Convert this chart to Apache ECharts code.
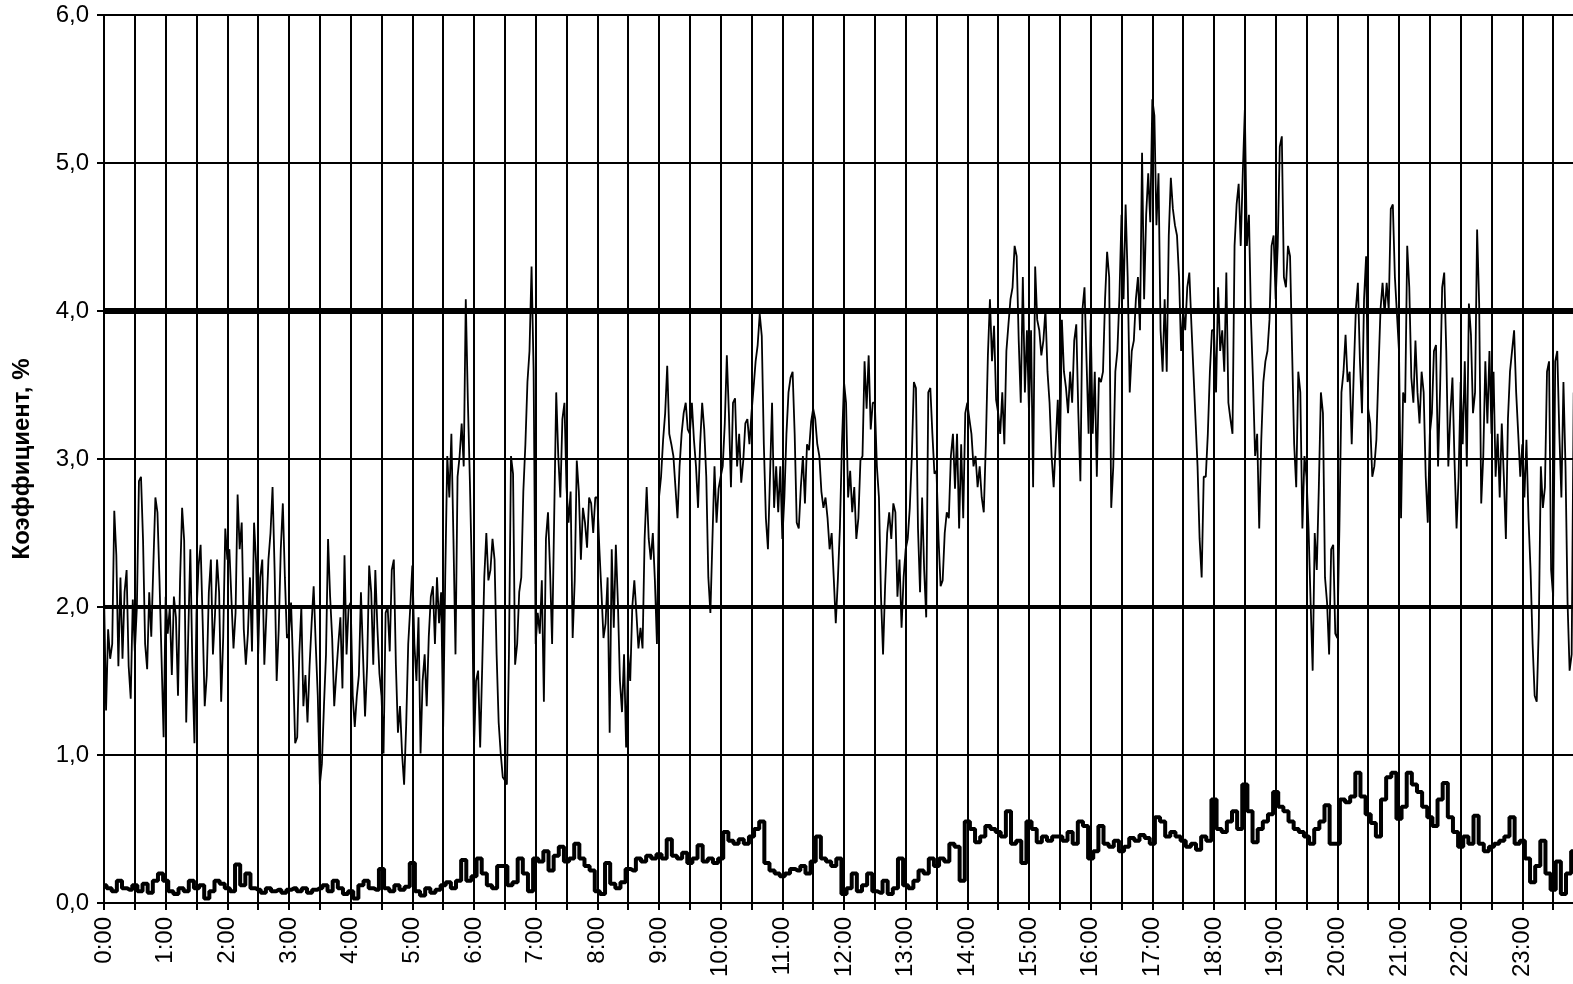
<!DOCTYPE html>
<html>
<head>
<meta charset="utf-8">
<script src="https://cdn.jsdelivr.net/npm/echarts@6/dist/echarts.min.js"></script>
<style>
  html, body { margin: 0; padding: 0; background: #fff; }
  #chart { width: 1573px; height: 984px; }
</style>
</head>
<body>
<div id="chart"></div>
<script>
// Upper series: one value every 2 minutes, from 0:00 to 23:50 (15 values per half hour)
const upperStepMin = 2;
const upperValues = [
  2.10,1.30,1.85,1.65,1.75,2.65,2.35,1.60,2.20,1.65,2.10,2.25,1.60,1.38,2.05, // 0:00
  1.70,2.00,2.85,2.88,2.45,1.75,1.58,2.10,1.80,2.28,2.74,2.64,2.18,1.65,1.12, // 0:30
  2.07,1.82,2.00,1.54,2.07,1.93,1.40,2.18,2.67,2.45,1.22,1.82,2.39,1.60,1.08, // 1:00
  1.96,2.28,2.42,1.90,1.33,1.54,2.10,2.32,1.68,1.95,2.32,2.10,1.36,1.80,2.53, // 1:30
  2.32,2.39,2.05,1.72,1.96,2.76,2.39,2.57,1.85,1.61,1.82,2.20,1.70,2.57,2.30, // 2:00
  1.68,2.20,2.32,1.61,1.95,2.32,2.50,2.81,2.25,1.50,1.85,2.39,2.70,2.20,1.79, // 2:30
  1.82,2.03,1.60,1.08,1.12,1.68,2.00,1.33,1.54,1.22,1.60,1.89,2.14,1.75,1.40, // 3:00
  0.80,0.94,1.33,1.68,2.46,2.07,1.79,1.33,1.55,1.75,1.93,1.45,2.35,1.68,2.00, // 3:30
  2.03,1.40,1.19,1.40,1.54,2.10,1.68,1.26,1.60,2.28,2.10,1.61,2.25,1.86,1.55, // 4:00
  1.40,1.01,1.96,2.00,1.70,2.25,2.32,1.61,1.15,1.33,1.01,0.80,1.20,1.75,2.00, // 4:30
  2.28,1.75,1.50,1.93,1.01,1.50,1.68,1.33,1.80,2.07,2.14,1.75,2.20,1.89,2.10, // 5:00
  1.19,2.20,3.02,2.74,3.17,2.46,1.68,2.88,3.02,3.24,2.95,4.08,3.40,2.85,2.20, // 5:30
  1.05,1.50,1.57,1.05,1.60,2.20,2.50,2.18,2.25,2.46,2.32,1.68,1.22,1.01,0.85, // 6:00
  0.83,0.80,1.68,3.02,2.90,1.61,1.75,2.10,2.20,2.78,3.10,3.52,3.73,4.30,3.60, // 6:30
  1.75,1.96,1.82,2.18,1.36,2.46,2.64,2.25,1.75,2.60,3.45,3.02,2.74,3.27,3.38, // 7:00
  2.81,2.57,2.78,1.79,2.18,2.99,2.78,2.32,2.67,2.57,2.40,2.74,2.70,2.50,2.74, // 7:30
  2.74,2.39,2.10,1.79,1.89,2.20,1.15,2.39,1.86,2.42,2.03,1.50,1.29,1.68,1.05, // 8:00
  1.68,1.50,2.00,2.18,1.96,1.72,1.86,1.72,2.46,2.81,2.46,2.32,2.50,2.18,1.75, // 8:30
  2.74,2.88,3.13,3.31,3.63,3.17,3.10,3.02,2.81,2.60,2.95,3.17,3.31,3.38,3.20, // 9:00
  3.17,3.38,3.13,2.95,2.67,3.10,3.38,3.20,2.88,2.20,1.96,2.46,2.95,2.57,2.80, // 9:30
  2.88,2.95,3.24,3.70,3.31,2.81,3.38,3.41,2.95,3.17,2.84,2.99,3.24,3.27,3.10, // 10:00
  3.31,3.48,3.66,3.77,3.98,3.83,3.10,2.60,2.39,2.88,3.38,2.67,2.95,2.64,2.95, // 10:30
  2.46,2.74,3.17,3.45,3.55,3.59,3.17,2.57,2.53,2.81,3.02,2.70,3.10,3.06,3.25, // 11:00
  3.34,3.27,3.10,3.02,2.78,2.67,2.74,2.60,2.39,2.50,2.20,1.89,2.18,2.53,3.10, // 11:30
  3.52,3.38,2.74,2.92,2.64,2.81,2.46,2.60,2.99,3.02,3.66,3.34,3.70,3.20,3.38, // 12:00
  3.38,2.95,2.74,2.07,1.68,2.14,2.50,2.64,2.46,2.70,2.64,2.07,2.32,1.86,2.20, // 12:30
  2.39,2.46,2.67,3.02,3.52,3.48,2.53,2.10,2.74,2.25,1.93,3.45,3.48,3.17,2.90, // 13:00
  2.92,2.46,2.14,2.18,2.50,2.64,2.60,3.02,3.17,2.80,3.17,2.53,3.10,2.60,3.31, // 13:30
  3.38,3.27,3.17,2.95,3.02,2.81,2.95,2.74,2.64,3.10,3.70,4.08,3.66,3.90,3.40, // 14:00
  3.31,3.17,3.45,3.10,3.73,3.91,4.08,4.16,4.44,4.37,3.80,3.38,4.23,3.45,3.87, // 14:30
  3.31,3.87,2.81,4.30,3.94,3.87,3.70,3.80,4.01,3.59,3.38,3.02,2.81,3.10,3.40, // 15:00
  2.95,3.94,3.59,3.48,3.31,3.59,3.38,3.80,3.91,3.31,2.85,4.01,4.16,3.66,3.17, // 15:30
  3.94,3.17,3.59,2.88,3.55,3.52,3.59,4.08,4.40,4.23,2.67,2.95,3.59,3.73,4.10, // 16:00
  4.65,4.08,4.72,4.23,3.45,3.73,3.80,4.08,4.23,3.87,5.07,4.08,4.65,4.93,4.60, // 16:30
  5.43,5.32,4.58,4.93,3.87,3.59,4.08,3.59,4.51,4.90,4.69,4.58,4.51,4.23,3.73, // 17:00
  4.01,3.87,4.16,4.26,3.91,3.59,3.27,2.95,2.46,2.20,2.88,2.88,3.17,3.59,3.87, // 17:30
  3.87,3.45,4.16,3.73,3.87,3.59,4.26,3.38,3.27,3.17,4.44,4.72,4.86,4.44,4.93, // 18:00
  5.36,4.44,4.65,3.94,3.52,3.02,3.17,2.53,3.13,3.52,3.66,3.73,3.94,4.44,4.51, // 18:30
  4.08,4.44,5.11,5.18,4.23,4.16,4.44,4.37,3.73,3.10,2.81,3.59,3.45,2.53,3.02, // 19:00
  2.88,2.53,2.03,1.57,2.50,2.25,2.81,3.45,3.31,2.20,2.03,1.68,2.39,2.42,1.82, // 19:30
  1.79,2.53,3.45,3.59,3.84,3.52,3.59,3.10,3.59,4.01,4.19,3.66,3.31,4.08,4.37, // 20:00
  3.34,3.24,2.88,2.95,3.13,3.59,4.01,4.19,3.98,4.19,4.01,4.69,4.72,4.23,3.98, // 20:30
  3.73,2.60,3.45,3.38,4.44,4.16,3.55,3.38,3.80,3.45,3.24,3.59,3.45,2.88,2.57, // 21:00
  3.17,3.31,3.73,3.77,2.95,3.48,4.16,4.26,3.73,2.95,3.31,3.55,2.99,2.53,2.88, // 21:30
  3.52,3.10,3.66,2.95,4.05,3.84,3.31,3.45,4.55,4.05,2.70,3.02,3.66,3.24,3.73, // 22:00
  3.17,3.59,2.88,3.17,2.74,3.24,2.88,2.46,3.27,3.59,3.73,3.87,3.45,3.17,2.88, // 22:30
  3.10,2.74,3.13,2.60,2.25,1.75,1.40,1.36,1.86,2.95,2.67,2.81,3.59,3.66,2.25, // 23:00
  2.07,3.66,3.73,3.17,2.74,3.52,2.95,2.03,1.57,1.68,3.45                      // 23:30
];

// Lower series: one value every 5 minutes (6 values per half hour)
const lowerStepMin = 5;
const lowerValues = [
  0.12,0.10,0.08,0.15,0.10,0.09, 0.12,0.08,0.13,0.07,0.15,0.20, // 0:00
  0.15,0.08,0.06,0.10,0.08,0.15, 0.10,0.12,0.03,0.08,0.15,0.13, // 1:00
  0.10,0.08,0.26,0.12,0.20,0.10, 0.09,0.07,0.10,0.08,0.09,0.07, // 2:00
  0.09,0.10,0.08,0.10,0.07,0.09, 0.10,0.12,0.08,0.15,0.10,0.06, // 3:00
  0.08,0.03,0.12,0.15,0.10,0.09, 0.23,0.10,0.08,0.12,0.09,0.11, // 4:00
  0.27,0.08,0.05,0.10,0.07,0.09, 0.12,0.14,0.10,0.15,0.29,0.15, // 5:00
  0.18,0.30,0.20,0.12,0.10,0.25, 0.25,0.12,0.14,0.30,0.20,0.08, // 6:00
  0.30,0.28,0.35,0.22,0.32,0.38, 0.28,0.30,0.40,0.30,0.25,0.22, // 7:00
  0.08,0.06,0.27,0.13,0.10,0.14, 0.23,0.22,0.30,0.28,0.32,0.30, // 8:00
  0.33,0.30,0.43,0.32,0.30,0.34, 0.27,0.30,0.39,0.28,0.30,0.27, // 9:00
  0.30,0.48,0.42,0.40,0.43,0.40, 0.45,0.50,0.55,0.27,0.22,0.20, // 10:00
  0.18,0.20,0.23,0.22,0.25,0.20, 0.28,0.45,0.30,0.28,0.25,0.30, // 11:00
  0.06,0.10,0.20,0.08,0.12,0.20, 0.08,0.07,0.15,0.06,0.10,0.30, // 12:00
  0.12,0.10,0.15,0.22,0.20,0.30, 0.25,0.30,0.28,0.40,0.38,0.15, // 13:00
  0.55,0.50,0.41,0.45,0.52,0.50, 0.48,0.45,0.62,0.40,0.42,0.27, // 14:00
  0.55,0.50,0.41,0.45,0.42,0.45, 0.45,0.42,0.48,0.40,0.55,0.52, // 15:00
  0.30,0.35,0.52,0.40,0.38,0.42, 0.35,0.38,0.44,0.42,0.46,0.44, // 16:00
  0.40,0.58,0.55,0.45,0.48,0.45, 0.42,0.38,0.40,0.36,0.45,0.42, // 17:00
  0.70,0.50,0.48,0.55,0.62,0.50, 0.80,0.62,0.41,0.50,0.55,0.60, // 18:00
  0.75,0.65,0.62,0.55,0.50,0.48, 0.45,0.40,0.50,0.55,0.66,0.40, // 19:00
  0.40,0.70,0.68,0.72,0.88,0.72, 0.60,0.54,0.45,0.70,0.85,0.88, // 20:00
  0.57,0.65,0.88,0.80,0.75,0.65, 0.58,0.52,0.70,0.81,0.58,0.48, // 21:00
  0.38,0.45,0.40,0.59,0.40,0.35, 0.38,0.40,0.42,0.45,0.58,0.40, // 22:00
  0.42,0.30,0.14,0.25,0.42,0.20, 0.09,0.28,0.06,0.20,0.35       // 23:00
];

// Limit lines (horizontal reference levels)
const limitLevels = [2, 4];
const limitWidths = [4, 6];

// Axis ticks
const hourLabels = ['0:00','1:00','2:00','3:00','4:00','5:00','6:00','7:00','8:00','9:00','10:00','11:00',
  '12:00','13:00','14:00','15:00','16:00','17:00','18:00','19:00','20:00','21:00','22:00','23:00'];
const yTicks = [0, 1, 2, 3, 4, 5, 6];
const yTitle = 'Коэффициент, %';

const upperData = upperValues.map((v, i) => [i * upperStepMin, v]);
const lowerData = lowerValues.map((v, i) => [i * lowerStepMin, v]);

const FONT = "'Liberation Sans', Arial, sans-serif";
const chart = echarts.init(document.getElementById('chart'), null, { renderer: 'canvas' });

chart.setOption({
  animation: false,
  backgroundColor: '#ffffff',
  grid: { left: 104, width: 1480, top: 15, bottom: 81, containLabel: false, outerBoundsMode: 'none' },
  xAxis: {
    type: 'value',
    min: 0,
    max: 1440,
    interval: 30,
    axisLine: { show: true, lineStyle: { color: '#000', width: 2 } },
    axisTick: { show: true, inside: false, length: 7, lineStyle: { color: '#000', width: 2 } },
    splitLine: { show: true, lineStyle: { color: '#000', width: 2 } },
    axisLabel: {
      rotate: 90,
      margin: 14,
      color: '#000',
      fontFamily: FONT,
      fontSize: 24,
      formatter: v => (v % 60 === 0 && v / 60 < hourLabels.length) ? hourLabels[v / 60] : ''
    }
  },
  yAxis: {
    type: 'value',
    min: yTicks[0],
    max: yTicks[yTicks.length - 1],
    interval: 1,
    name: yTitle,
    nameLocation: 'middle',
    nameGap: 70,
    nameRotate: 90,
    nameTextStyle: { color: '#000', fontFamily: FONT, fontSize: 24, fontWeight: 'bold' },
    axisLine: { show: true, lineStyle: { color: '#000', width: 2 } },
    axisTick: { show: true, inside: false, length: 7, lineStyle: { color: '#000', width: 2 } },
    splitLine: { show: true, lineStyle: { color: '#000', width: 2 } },
    axisLabel: {
      margin: 15,
      color: '#000',
      fontFamily: FONT,
      fontSize: 24,
      formatter: v => v.toFixed(1).replace('.', ',')
    }
  },
  series: [
    {
      type: 'line',
      name: 'lower',
      data: lowerData,
      step: 'middle',
      symbol: 'none',
      lineStyle: { color: '#000', width: 4 },
      z: 3,
      markLine: {
        silent: true,
        symbol: 'none',
        label: { show: false },
        data: limitLevels.map((lv, i) => ({ yAxis: lv, lineStyle: { color: '#000', width: limitWidths[i], type: 'solid' } }))
      }
    },
    {
      type: 'line',
      name: 'upper',
      data: upperData,
      symbol: 'none',
      lineStyle: { color: '#000', width: 1.8 },
      z: 4
    }
  ]
});
</script>
</body>
</html>
